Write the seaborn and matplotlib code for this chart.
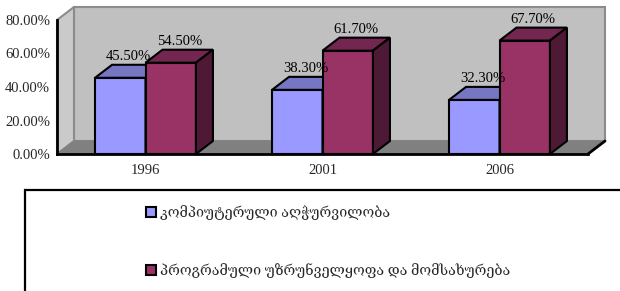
import pandas as pd
import numpy as np
import matplotlib.pyplot as plt
import seaborn as sns
from matplotlib.patches import Polygon, Rectangle, Patch

# data
years = ['1996', '2001', '2006']
hardware = [0.455, 0.383, 0.323]
software = [0.545, 0.617, 0.677]
series_names = ['კომპიუტერული აღჭურვილობა',
                'პროგრამული უზრუნველყოფა და მომსახურება']
y_ticks = [0, 0.2, 0.4, 0.6, 0.8]

df = pd.DataFrame({
    'year': years * 2,
    'share': hardware + software,
    'type': [series_names[0]] * 3 + [series_names[1]] * 3,
})

front_colors = ['#9999FF', '#993366']
top_colors = ['#7676C2', '#73264F']
side_colors = ['#4E4EA0', '#4D1934']

sns.set_theme(style='white')
plt.rcParams['font.family'] = ['Liberation Serif', 'DejaVu Serif', 'DejaVu Sans']

W, H, DPI = 620, 291, 100
fig = plt.figure(figsize=(W / DPI, H / DPI), dpi=DPI)

# front plot box in pixels
px_left, px_right, px_top, px_bottom = 57, 588, 20, 154
ax = fig.add_axes([px_left / W, (H - px_bottom) / H,
                   (px_right - px_left) / W, (px_bottom - px_top) / H])
ax.patch.set_visible(False)

# 3d depth in pixels
depth_x, depth_y = 17, 13
ddx_ax = depth_x / (px_right - px_left)
ddy_ax = depth_y / (px_bottom - px_top)

# walls and floor
ax.add_patch(Polygon([(ddx_ax, ddy_ax), (1 + ddx_ax, ddy_ax), (1 + ddx_ax, 1 + ddy_ax), (ddx_ax, 1 + ddy_ax)],
                     closed=True, transform=ax.transAxes, clip_on=False,
                     facecolor='#C0C0C0', edgecolor='#8C8C8C', lw=1.5, zorder=0))
ax.add_patch(Polygon([(0, 0), (0, 1), (ddx_ax, 1 + ddy_ax), (ddx_ax, ddy_ax)],
                     closed=True, transform=ax.transAxes, clip_on=False,
                     facecolor='#CACACA', edgecolor='#8C8C8C', lw=1.5, zorder=0.1))
ax.add_patch(Polygon([(0, 0), (1, 0), (1 + ddx_ax, ddy_ax), (ddx_ax, ddy_ax)],
                     closed=True, transform=ax.transAxes, clip_on=False,
                     facecolor='#808080', edgecolor='#808080', lw=1, zorder=0.2))
ax.plot([1, 1 + ddx_ax], [0, ddy_ax], color='black', lw=2, transform=ax.transAxes,
        clip_on=False, zorder=5)

sns.barplot(data=df, x='year', y='share', hue='type', palette=front_colors,
            width=0.57, saturation=1, edgecolor='black', linewidth=1.5,
            errorbar=None, legend=False, ax=ax)

ax.set_xlim(-0.5, 2.5)
ax.set_ylim(0, 0.8)
ddx = ddx_ax * 3
ddy = ddy_ax * 0.8

# 3d top and side faces, value labels
for i, bar in enumerate(ax.patches):
    if not isinstance(bar, Rectangle) or bar.get_height() <= 0:
        continue
    s = 0 if bar.get_facecolor()[2] > 0.6 else 1
    x0, w, h = bar.get_x(), bar.get_width(), bar.get_height()
    z = 2 + s
    bar.set_zorder(z)
    ax.add_patch(Polygon([(x0, h), (x0 + w, h), (x0 + w + ddx, h + ddy), (x0 + ddx, h + ddy)],
                         closed=True, facecolor=top_colors[s], edgecolor='black',
                         lw=1.5, zorder=z + 0.1, clip_on=False))
    ax.add_patch(Polygon([(x0 + w, 0), (x0 + w, h), (x0 + w + ddx, h + ddy), (x0 + w + ddx, ddy)],
                         closed=True, facecolor=side_colors[s], edgecolor='black',
                         lw=1.5, zorder=z + 0.1, clip_on=False))
    ax.annotate(f'{h * 100:.2f}%', (x0 + w / 2, h), textcoords='offset pixels',
                xytext=(depth_x / 2, depth_y + 5), ha='center', va='baseline',
                fontsize=10.5, color='black', zorder=10, annotation_clip=False)

# axes styling
sns.despine(ax=ax, top=True, right=True)
for side in ['left', 'bottom']:
    ax.spines[side].set_color('black')
    ax.spines[side].set_linewidth(2)
    ax.spines[side].set_zorder(6)
ax.set_yticks(y_ticks)
ax.set_yticklabels([f'{v * 100:.2f}%' for v in y_ticks], fontsize=10.5)
ax.tick_params(axis='y', direction='out', length=4, width=1.5, color='black', pad=1)
ax.set_xticks(range(len(years)))
ax.set_xticklabels(years, fontsize=10.5)
ax.set_xticks([0.5, 1.5], minor=True)
ax.tick_params(axis='x', which='major', length=0, pad=7)
ax.tick_params(axis='x', which='minor', direction='out', length=4, width=1.5, color='black')
ax.set_xlabel('')
ax.set_ylabel('')

# legend box
fig.add_artist(Rectangle((25 / W, -0.2), 1.2, (H - 190) / H + 0.2, transform=fig.transFigure,
                         facecolor='none', edgecolor='black', lw=1.6))
handles = [Patch(facecolor=c, edgecolor='black', lw=1.5) for c in front_colors]
fig.legend(handles, series_names, loc='upper left', bbox_to_anchor=(146 / W, (H - 205) / H),
           frameon=False, fontsize=10.3, handlelength=0.7, handleheight=0.7,
           handletextpad=0.3, labelspacing=3.0, borderpad=0, borderaxespad=0)

fig.savefig('out.png', dpi=DPI)
